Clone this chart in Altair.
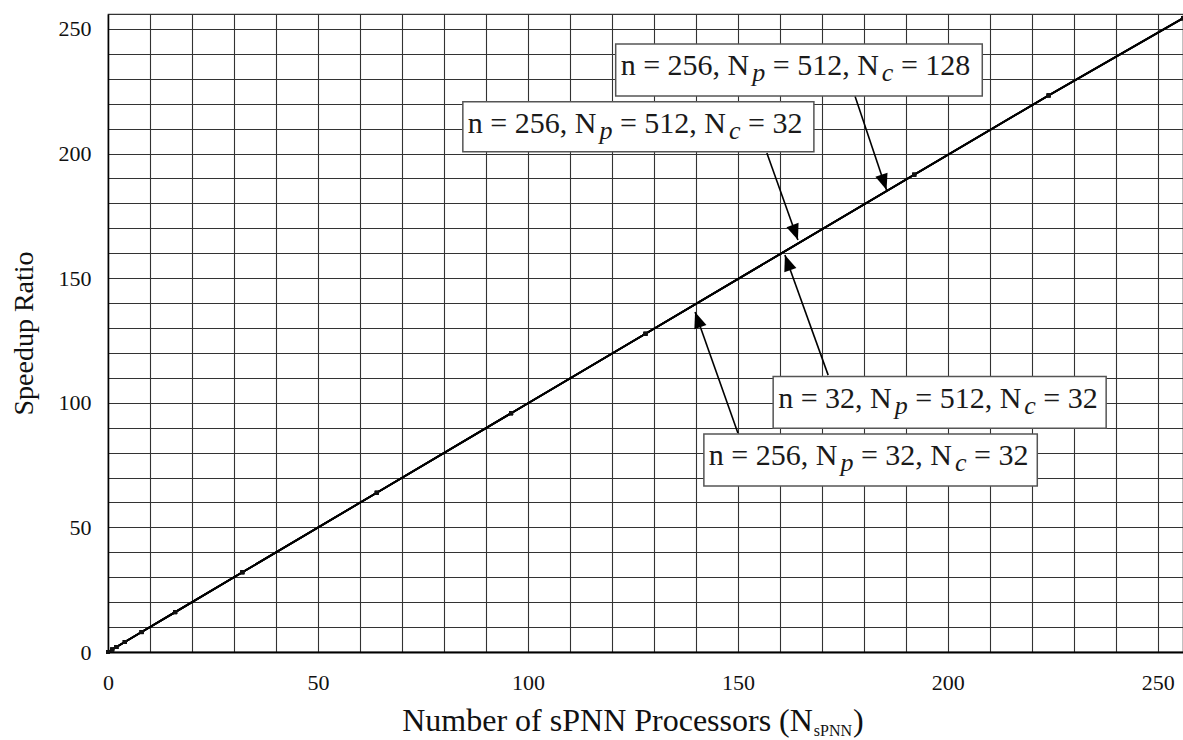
import math
import altair as alt
import pandas as pd

# ---------------- data ----------------
n_procs = [0, 1, 2, 4, 8, 16, 32, 64, 96, 128, 192, 224, 256]
speedup_256_512_128 = [0, 1, 2, 4, 8, 16, 32, 63.9, 95.8, 127.7, 191.6, 223.4, 254.4]
speedup_256_512_32 = [0, 1, 2, 4, 8, 16, 32, 63.9, 95.8, 127.7, 191.5, 223.3, 254.3]
speedup_32_512_32 = [0, 1, 2, 4, 8, 16, 32, 63.9, 95.8, 127.7, 191.5, 223.3, 254.3]
speedup_256_32_32 = [0, 1, 2, 4, 8, 16, 32, 63.9, 95.8, 127.7, 191.5, 223.3, 254.2]

series_names = ["256-512-128", "256-512-32", "32-512-32", "256-32-32"]
series_values = [speedup_256_512_128, speedup_256_512_32, speedup_32_512_32, speedup_256_32_32]

# label pieces: text, subscript, text, subscript, text
label_pieces = [
    ["n = 256, N", "p", " = 512, N", "c", " = 128"],
    ["n = 256, N", "p", " = 512, N", "c", " = 32"],
    ["n = 32, N", "p", " = 512, N", "c", " = 32"],
    ["n = 256, N", "p", " = 32, N", "c", " = 32"],
]

# annotation boxes (data units): left, right, top, bottom
box_left = [120.9, 84.5, 158.4, 141.9]
box_right = [208.2, 168.1, 237.7, 221.3]
box_top = [244.0, 220.8, 110.5, 87.5]
box_bottom = [223.1, 200.7, 89.8, 66.6]
# arrows (data units): tail -> tip
arrow_tail_x = [177.9, 156.9, 171.5, 150.0]
arrow_tail_y = [223.0, 200.2, 111.1, 87.9]
arrow_tip_x = [185.4, 164.3, 161.2, 139.8]
arrow_tip_y = [185.4, 165.3, 159.3, 136.4]

x_ticks = list(range(0, 257, 10))
y_ticks = list(range(0, 257, 10))

# ---------------- layout ----------------
W, H = 1075, 638
XMAX, YMAX = 256, 256
PX_X = W / XMAX
PX_Y = H / YMAX
FONT = "Liberation Serif"
FS = 30
SUB_FS = 26
SUB_GAP = 3
TEXT_PAD = 5
BASELINE_OFF = 31

# Times / Liberation Serif advance widths (1/1000 em)
WID = {" ": 250, ",": 250, "=": 564, "n": 500, "N": 722, "p": 500, "c": 444,
       "u": 500, "m": 778, "b": 500, "e": 444, "r": 333, "o": 500, "f": 333,
       "s": 389, "P": 556, "(": 333, ")": 333}
for d in "0123456789":
    WID[d] = 500


def text_w(s, size):
    return sum(WID.get(ch, 500) for ch in s) * size / 1000.0


rows = []
for k, pieces in enumerate(label_pieces):
    off = 0.0
    for i, piece in enumerate(pieces):
        is_sub = i in (1, 3)
        size = SUB_FS if is_sub else FS
        lead = len(piece) - len(piece.lstrip(" "))
        off_piece = off + text_w(" " * lead, size) + (SUB_GAP if is_sub else 0)
        rows.append({
            "x": box_left[k] + (TEXT_PAD + off_piece) / PX_X,
            "y": box_top[k] - BASELINE_OFF / PX_Y,
            "t": piece.strip(),
            "sub": is_sub,
        })
        off += text_w(piece, size) + (SUB_GAP if is_sub else 0)
seg_df = pd.DataFrame(rows)
norm_df = seg_df[~seg_df["sub"]]
sub_df = seg_df[seg_df["sub"]]

line_rows = []
for name, vals in zip(series_names, series_values):
    for n, s in zip(n_procs, vals):
        line_rows.append({"N": n, "S": s, "series": name})
line_df = pd.DataFrame(line_rows)

box_df = pd.DataFrame({"l": box_left, "r": box_right, "t": box_top, "b": box_bottom})
angles = []
for tx, ty, hx, hy in zip(arrow_tail_x, arrow_tail_y, arrow_tip_x, arrow_tip_y):
    vx = (hx - tx) * PX_X
    vy = -(hy - ty) * PX_Y
    angles.append(math.degrees(math.atan2(vx, -vy)) % 360)
arrow_df = pd.DataFrame({"tx": arrow_tail_x, "ty": arrow_tail_y,
                         "hx": arrow_tip_x, "hy": arrow_tip_y, "ang": angles})

xs = alt.Scale(domain=[0, XMAX], nice=False, zero=False)
ys = alt.Scale(domain=[0, YMAX], nice=False, zero=False)

x_axis = alt.Axis(values=x_ticks, labelExpr="datum.value % 50 === 0 ? datum.label : ''",
                  title=None, grid=True, ticks=False, labelFont=FONT, labelFontSize=22,
                  labelColor="#111", labelPadding=20, domainColor="black", domainWidth=2.2,
                  gridColor="#333", gridWidth=1.1, labelFlush=False)
y_axis = alt.Axis(values=y_ticks, labelExpr="datum.value % 50 === 0 ? datum.label : ''",
                  title="Speedup Ratio", grid=True, ticks=False, labelFont=FONT,
                  labelFontSize=22, labelColor="#111", labelPadding=17,
                  domainColor="black", domainWidth=1.5, gridColor="#333", gridWidth=1.1,
                  titleFont=FONT, titleFontSize=28, titleFontWeight="normal",
                  titleColor="#111", titlePadding=20, labelFlush=False)


def X(field):
    return alt.X(field, scale=xs, axis=x_axis)


def Y(field):
    return alt.Y(field, scale=ys, axis=y_axis)


lines = alt.Chart(line_df).mark_line(color="black", strokeWidth=1.8).encode(
    x=X("N:Q"), y=Y("S:Q"), detail="series:N",
)
points = alt.Chart(line_df).mark_point(shape="square", filled=True, size=16,
                                       color="#111", opacity=1).encode(
    x=X("N:Q"), y=Y("S:Q"),
)
arrows = alt.Chart(arrow_df).mark_rule(color="black", strokeWidth=1.6).encode(
    x=X("tx:Q"), y=Y("ty:Q"), x2="hx:Q", y2="hy:Q",
)
heads = alt.Chart(arrow_df).mark_point(shape="M0,0L-0.4,1L0.4,1Z", filled=True,
                                       size=1024, color="black", opacity=1,
                                       strokeWidth=0).encode(
    x=X("hx:Q"), y=Y("hy:Q"), angle=alt.Angle("ang:Q", scale=None),
)
boxes = alt.Chart(box_df).mark_rect(fill="white", stroke="#555", strokeWidth=1.5).encode(
    x=X("l:Q"), x2="r:Q", y=Y("t:Q"), y2="b:Q",
)
texts = alt.Chart(norm_df).mark_text(align="left", baseline="alphabetic", font=FONT,
                                     fontSize=FS, color="#1a1a1a").encode(
    x=X("x:Q"), y=Y("y:Q"), text="t:N",
)
subs = alt.Chart(sub_df).mark_text(align="left", baseline="alphabetic", font=FONT,
                                   fontSize=SUB_FS, fontStyle="italic", dy=6,
                                   color="#1a1a1a").encode(
    x=X("x:Q"), y=Y("y:Q"), text="t:N",
)

# x-axis title with subscript
TFS = 32
SFS = 16
main_title = "Number of sPNN Processors (N"
sub_title = "sPNN"
w_main = text_w(main_title, TFS)
w_sub = text_w(sub_title, SFS) + 2
w_par = text_w(")", TFS)
total = w_main + w_sub + w_par
start = (633 - 108) - total / 2
TY = 731 - 14
t_main = alt.Chart(pd.DataFrame({"t": [main_title]})).mark_text(
    align="left", baseline="alphabetic", font=FONT, fontSize=TFS, color="#111").encode(
    text="t:N", x=alt.value(start), y=alt.value(TY))
t_sub = alt.Chart(pd.DataFrame({"t": [sub_title]})).mark_text(
    align="left", baseline="alphabetic", font=FONT, fontSize=SFS, color="#111").encode(
    text="t:N", x=alt.value(start + w_main + 1), y=alt.value(TY + 5))
t_par = alt.Chart(pd.DataFrame({"t": [")"]})).mark_text(
    align="left", baseline="alphabetic", font=FONT, fontSize=TFS, color="#111").encode(
    text="t:N", x=alt.value(start + w_main + w_sub), y=alt.value(TY))

chart = alt.layer(lines, points, arrows, boxes, texts, subs, heads, t_main, t_sub, t_par).properties(
    width=W, height=H,
    autosize=alt.AutoSizeParams(type="none"),
    padding={"left": 108, "top": 14, "right": 0, "bottom": 88},
    background="white",
).configure_view(stroke="#333", strokeWidth=1.2)

chart.save("out.html", embed_options={"renderer": "svg", "actions": False})
